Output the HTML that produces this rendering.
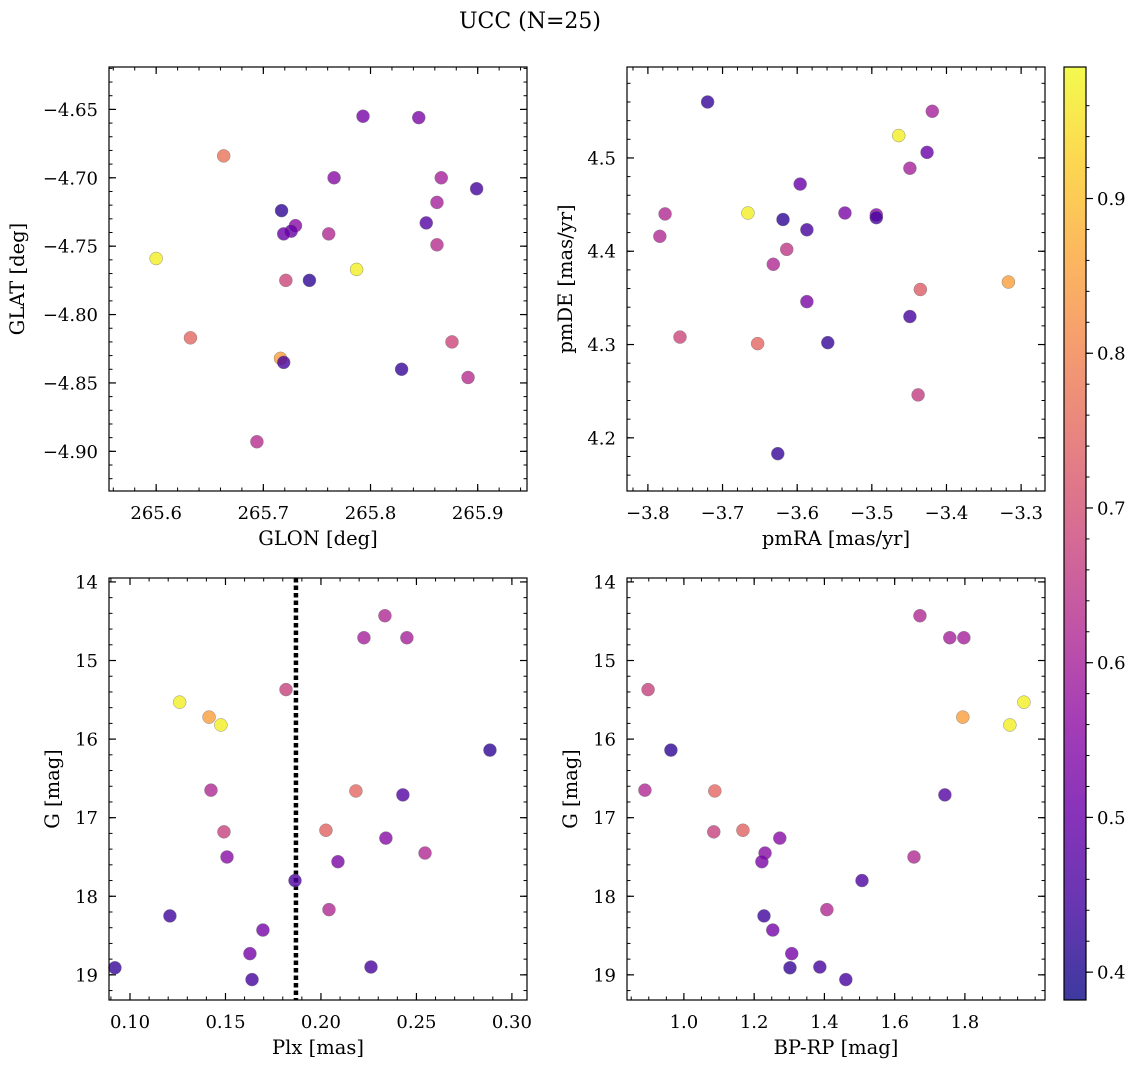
<!DOCTYPE html>
<html><head><meta charset="utf-8"><style>
body{margin:0;background:#fff;}
svg text{font-family:"DejaVu Serif","Liberation Serif",serif;fill:#000;}
</style></head><body>
<svg id="fig" width="1136" height="1067" xmlns="http://www.w3.org/2000/svg">
<defs>
<linearGradient id="cbg" x1="0" y1="1" x2="0" y2="0">
<stop offset="0" stop-color="#0d0887"/><stop offset="0.1" stop-color="#41049d"/><stop offset="0.2" stop-color="#6a00a8"/><stop offset="0.3" stop-color="#8f0da4"/><stop offset="0.4" stop-color="#b12a90"/><stop offset="0.5" stop-color="#cc4778"/><stop offset="0.6" stop-color="#e16462"/><stop offset="0.7" stop-color="#f2844b"/><stop offset="0.8" stop-color="#fca636"/><stop offset="0.9" stop-color="#fcce25"/><stop offset="1" stop-color="#f0f921"/>
</linearGradient>
</defs>
<text x="530" y="28" font-size="22" text-anchor="middle">UCC (N=25)</text>
</svg>
<script>
// Panel 1: GLON / GLAT
const glon=[265.793,265.845,265.663,265.766,265.866,265.899,265.862,265.717,265.852,265.730,265.726,265.719,265.761,265.862,265.600,265.787,265.721,265.743,265.632,265.876,265.716,265.719,265.829,265.891,265.694];
const glat=[-4.655,-4.656,-4.684,-4.700,-4.700,-4.708,-4.718,-4.724,-4.733,-4.735,-4.739,-4.741,-4.741,-4.749,-4.759,-4.767,-4.775,-4.775,-4.817,-4.820,-4.832,-4.835,-4.840,-4.846,-4.893];
const prob1=[0.52,0.53,0.77,0.55,0.60,0.45,0.60,0.42,0.47,0.55,0.50,0.50,0.62,0.63,0.97,0.97,0.68,0.42,0.75,0.68,0.85,0.45,0.43,0.63,0.63];
// Panel 2: pmRA / pmDE
const pmra=[-3.720,-3.419,-3.464,-3.426,-3.449,-3.596,-3.777,-3.666,-3.536,-3.494,-3.494,-3.619,-3.587,-3.784,-3.614,-3.632,-3.317,-3.435,-3.587,-3.449,-3.757,-3.653,-3.559,-3.438,-3.626];
const pmde=[4.560,4.550,4.524,4.506,4.489,4.472,4.440,4.441,4.441,4.439,4.436,4.434,4.423,4.416,4.402,4.386,4.367,4.359,4.346,4.330,4.308,4.301,4.302,4.246,4.183];
const prob2=[0.43,0.60,0.97,0.50,0.60,0.50,0.62,0.97,0.53,0.55,0.45,0.42,0.45,0.62,0.65,0.62,0.85,0.73,0.53,0.45,0.68,0.75,0.43,0.66,0.43];
// Panel 3: Plx / G
const plx=[0.2335,0.2225,0.245,0.126,0.1817,0.1414,0.1476,0.2885,0.1424,0.2183,0.2429,0.1492,0.2026,0.234,0.1508,0.2545,0.2089,0.1864,0.1209,0.2042,0.1696,0.1628,0.0921,0.2262,0.1639];
const gmag3=[14.43,14.71,14.71,15.53,15.37,15.72,15.82,16.14,16.65,16.66,16.71,17.18,17.16,17.26,17.50,17.45,17.56,17.80,18.25,18.17,18.43,18.73,18.91,18.90,19.06];
const prob3=[0.62,0.60,0.60,0.97,0.67,0.85,0.97,0.42,0.62,0.75,0.47,0.67,0.74,0.55,0.55,0.62,0.53,0.46,0.44,0.62,0.52,0.52,0.43,0.45,0.45];
const plxMedian=0.1869;
// Panel 4: BP-RP / G
const bprp=[1.672,1.757,1.797,0.898,1.968,1.794,1.928,0.963,0.889,1.088,1.743,1.085,1.168,1.273,1.231,1.655,1.222,1.507,1.228,1.407,1.253,1.307,1.302,1.387,1.461];
const gmag4=[14.43,14.71,14.71,15.37,15.53,15.72,15.82,16.14,16.65,16.66,16.71,17.18,17.16,17.26,17.45,17.50,17.56,17.80,18.25,18.17,18.43,18.73,18.91,18.90,19.06];
const prob4=[0.62,0.60,0.60,0.67,0.97,0.85,0.97,0.42,0.62,0.75,0.47,0.67,0.74,0.55,0.55,0.62,0.53,0.46,0.44,0.62,0.52,0.52,0.43,0.45,0.45];
// tick labels
const ticks1x=[265.6,265.7,265.8,265.9], ticks1y=[-4.65,-4.70,-4.75,-4.80,-4.85,-4.90];
const ticks2x=[-3.8,-3.7,-3.6,-3.5,-3.4,-3.3], ticks2y=[4.2,4.3,4.4,4.5];
const ticks3x=[0.10,0.15,0.20,0.25,0.30], ticksGy=[14,15,16,17,18,19];
const ticks4x=[1.0,1.2,1.4,1.6,1.8];
const cbTicks=[0.4,0.5,0.6,0.7,0.8,0.9];
const VMIN=0.382,VMAX=0.985;

const NS="http://www.w3.org/2000/svg";
const svg=document.getElementById('fig');
function mk(tag,attrs,parent){const e=document.createElementNS(NS,tag);for(const k in attrs)e.setAttribute(k,attrs[k]);(parent||svg).appendChild(e);return e;}
const stops=[[13,8,135],[65,4,157],[106,0,168],[143,13,164],[177,42,144],[204,71,120],[225,100,98],[242,132,75],[252,166,54],[252,206,37],[240,249,33]];
function plasma(v){let t=(v-VMIN)/(VMAX-VMIN);t=Math.max(0,Math.min(1,t));const f=t*10,i=Math.min(9,Math.floor(f)),r=f-i;const a=stops[i],b=stops[i+1];return `rgb(${a.map((c,k)=>Math.round(c+(b[k]-c)*r)).join(',')})`;}

function panel(o){
  const {x0,x1,y0,y1,xmin,xmax,ymin,ymax,invert}=o;
  const sx=v=>x0+(v-xmin)/(xmax-xmin)*(x1-x0);
  const sy=v=>invert? y0+(v-ymin)/(ymax-ymin)*(y1-y0) : y1-(v-ymin)/(ymax-ymin)*(y1-y0);
  const g=mk('g',{});
  
  
  const lo=(a,b,s)=>{const r=[];for(let v=Math.ceil(Math.min(a,b)/s-1e-9)*s;v<=Math.max(a,b)+1e-9;v+=s)r.push(v);return r;};
  lo(xmin,xmax,o.mx).forEach(v=>{const x=sx(v);mk('line',{x1:x,x2:x,y1:y1,y2:y1-3.5,stroke:'#000','stroke-width':1},g);mk('line',{x1:x,x2:x,y1:y0,y2:y0+3.5,stroke:'#000','stroke-width':1},g);});
  lo(ymin,ymax,o.my).forEach(v=>{const y=sy(v);mk('line',{x1:x0,x2:x0+3.5,y1:y,y2:y,stroke:'#000','stroke-width':1},g);mk('line',{x1:x1,x2:x1-3.5,y1:y,y2:y,stroke:'#000','stroke-width':1},g);});
  o.tx.forEach(v=>{const x=sx(v);mk('line',{x1:x,x2:x,y1:y1,y2:y1-7,stroke:'#000','stroke-width':1.2},g);mk('line',{x1:x,x2:x,y1:y0,y2:y0+7,stroke:'#000','stroke-width':1.2},g);
    const t=mk('text',{x:x,y:y1+28,'font-size':18,'text-anchor':'middle'},g);t.textContent=o.fx(v).replace('-','\u2212');
    
    });
  o.ty.forEach(v=>{const y=sy(v);mk('line',{x1:x0,x2:x0+7,y1:y,y2:y,stroke:'#000','stroke-width':1.2},g);mk('line',{x1:x1,x2:x1-7,y1:y,y2:y,stroke:'#000','stroke-width':1.2},g);
    const t=mk('text',{x:x0-11,y:y+6.5,'font-size':18,'text-anchor':'end'},g);t.textContent=o.fy(v).replace('-','\u2212');
    
    });
  if(o.vline!==undefined){const l=mk('line',{x1:sx(o.vline),x2:sx(o.vline),y1:y0,y2:y1,stroke:'#000','stroke-width':4.5,'stroke-dasharray':'4.5,3'},g);
    
    }
  o.xs.forEach((v,i)=>{const c=mk('circle',{cx:sx(v),cy:sy(o.ys[i]),r:6.5,fill:plasma(o.c[i]),'fill-opacity':0.8,stroke:'#777','stroke-width':0.4},g);
    
    });
  mk('rect',{x:x0,y:y0,width:x1-x0,height:y1-y0,fill:'none',stroke:'#000','stroke-width':1.2},g);
  const xl=mk('text',{x:(x0+x1)/2,y:y1+54,'font-size':19.5,'text-anchor':'middle'},g);xl.textContent=o.xl;
  
  
  const yx=o.ylx,yy=(y0+y1)/2;
  const yl=mk('text',{x:yx,y:yy,'font-size':19.5,'text-anchor':'middle',transform:`rotate(-90 ${yx} ${yy})`},g);yl.textContent=o.yl;
  
  
}
panel({name:'glon-glat-panel',x0:109,x1:527,y0:67,y1:491,xmin:265.556,xmax:265.946,ymin:-4.929,ymax:-4.619,mx:0.02,my:0.01,tx:ticks1x,ty:ticks1y,fx:v=>v.toFixed(1),fy:v=>v.toFixed(2),xs:glon,ys:glat,c:prob1,xl:'GLON [deg]',yl:'GLAT [deg]',ylx:24});
panel({name:'pm-panel',x0:627,x1:1045,y0:67,y1:491,xmin:-3.828,xmax:-3.268,ymin:4.143,ymax:4.5975,mx:0.02,my:0.02,tx:ticks2x,ty:ticks2y,fx:v=>v.toFixed(1),fy:v=>v.toFixed(1),xs:pmra,ys:pmde,c:prob2,xl:'pmRA [mas/yr]',yl:'pmDE [mas/yr]',ylx:572});
panel({name:'plx-g-panel',x0:109,x1:527,y0:578,y1:1000,xmin:0.089,xmax:0.3079,ymin:13.95,ymax:19.32,invert:true,mx:0.01,my:0.2,tx:ticks3x,ty:ticksGy,fx:v=>v.toFixed(2),fy:v=>String(v),xs:plx,ys:gmag3,c:prob3,xl:'Plx [mas]',yl:'G [mag]',ylx:59,vline:plxMedian});
panel({name:'cmd-panel',x0:627,x1:1045,y0:578,y1:1000,xmin:0.838,xmax:2.028,ymin:13.95,ymax:19.32,invert:true,mx:0.05,my:0.2,tx:ticks4x,ty:ticksGy,fx:v=>v.toFixed(1),fy:v=>String(v),xs:bprp,ys:gmag4,c:prob4,xl:'BP-RP [mag]',yl:'G [mag]',ylx:577});
// colorbar
const cb=mk('g',{});


const cy0=67,cy1=1000,cx0=1064,cx1=1086;
mk('rect',{x:cx0,y:cy0,width:cx1-cx0,height:cy1-cy0,fill:'url(#cbg)','fill-opacity':0.8},cb);
mk('rect',{x:cx0,y:cy0,width:cx1-cx0,height:cy1-cy0,fill:'none',stroke:'#000','stroke-width':1.2},cb);
const cbY=v=>cy1-(v-VMIN)/(VMAX-VMIN)*(cy1-cy0);
for(let v=0.4;v<=0.98;v+=0.02){const y=cbY(v);mk('line',{x1:cx1,x2:cx1+3.5,y1:y,y2:y,stroke:'#000'},cb);}
cbTicks.forEach(v=>{const y=cbY(v);mk('line',{x1:cx1,x2:cx1+7,y1:y,y2:y,stroke:'#000','stroke-width':1.2},cb);
  const t=mk('text',{x:cx1+11,y:y+6.5,'font-size':18},cb);t.textContent=v.toFixed(1);
  
  });
</script>
</body></html>
